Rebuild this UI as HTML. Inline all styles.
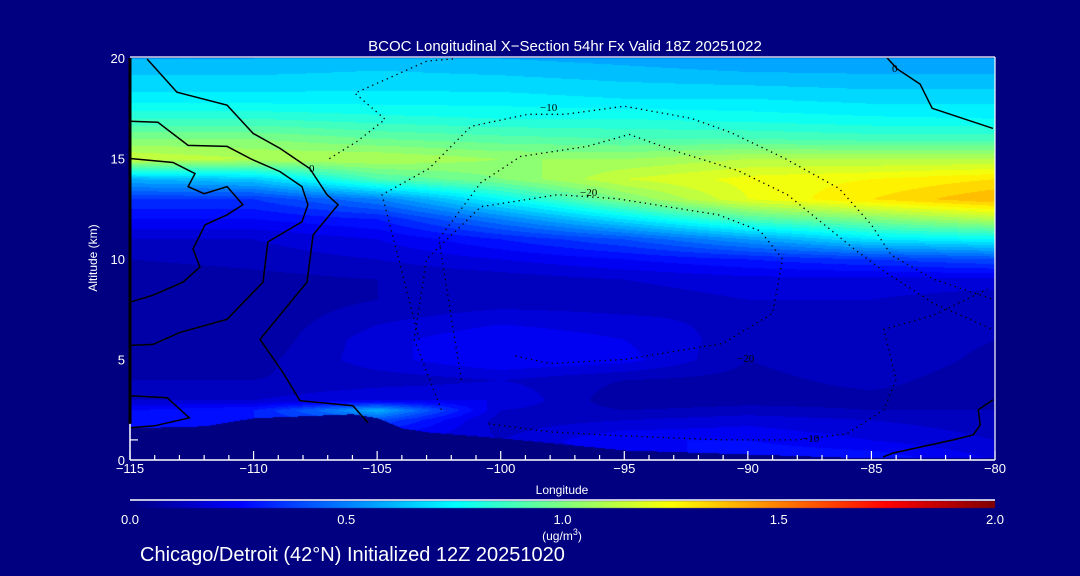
<!DOCTYPE html>
<html><head><meta charset="utf-8"><style>
html,body{margin:0;padding:0;background:#000080;}
#wrap{position:relative;width:1080px;height:576px;background:#000080;overflow:hidden;font-family:"Liberation Sans",sans-serif;color:#fff;}
canvas{position:absolute;left:0;top:0;}
svg{position:absolute;left:0;top:0;}
.t{fill:#fff;font-family:"Liberation Sans",sans-serif;}
</style></head><body>
<div id="wrap">
<canvas id="cv" width="1080" height="576"></canvas>
<svg id="sv" width="1080" height="576"></svg>
</div>
<script>
// ---- data ----
const lons = [-115,-110,-105,-100,-95,-90,-85,-80];
const alts = [0,1,2,2.5,3,4,5,6,8,9,10,11,12,13,14,15,16,17,18,20];
const field = [
[0.1,0.1,0.1,0.15,0.2,0.3,0.3,0.2],
[0.2,0.2,0.2,0.15,0.25,0.25,0.2,0.15],
[0.3,0.3,0.4,0.12,0.15,0.18,0.15,0.12],
[0.25,0.3,0.6,0.15,0.1,0.12,0.1,0.1],
[0.15,0.15,0.2,0.2,0.06,0.08,0.08,0.08],
[0.1,0.1,0.12,0.15,0.1,0.08,0.12,0.06],
[0.08,0.08,0.18,0.25,0.22,0.1,0.15,0.08],
[0.05,0.06,0.18,0.25,0.2,0.12,0.15,0.1],
[0.05,0.06,0.1,0.12,0.12,0.15,0.15,0.12],
[0.06,0.08,0.1,0.12,0.15,0.18,0.18,0.18],
[0.1,0.12,0.15,0.2,0.25,0.3,0.35,0.4],
[0.15,0.15,0.2,0.3,0.4,0.55,0.7,0.75],
[0.25,0.25,0.3,0.5,0.7,0.9,1.0,1.1],
[0.35,0.35,0.5,0.75,1.0,1.2,1.3,1.4],
[0.6,0.65,0.9,1.0,1.15,1.22,1.25,1.3],
[1.15,1.1,1.1,1.05,1.05,1.1,1.1,1.1],
[1.0,1.0,0.95,0.92,0.9,0.9,0.88,0.88],
[0.85,0.85,0.82,0.8,0.8,0.78,0.76,0.75],
[0.72,0.72,0.72,0.72,0.7,0.7,0.68,0.68],
[0.6,0.6,0.62,0.6,0.58,0.55,0.55,0.55]
];
const terrainLon = [-115,-112,-110,-108,-106,-105,-104,-103,-100,-95,-90,-85,-80];
const terrainAlt = [1.6,1.7,2.1,2.2,2.3,2.1,1.6,1.4,1.1,0.5,0.3,0.1,0.1];
const xTicks = [-115,-110,-105,-100,-95,-90,-85,-80];
const yTicks = [0,5,10,15,20];
const cbTicks = [0.0,0.5,1.0,1.5,2.0];
const solidA = [[-114.31,19.95],[-113.1,18.3],[-111.07,17.65],[-110.02,16.25],[-108.93,15.5],[-107.72,14.5],[-107.03,13.2],[-106.58,12.7],[-107.59,11.2],[-107.84,8.85],[-109.74,6.0],[-108.81,4.35],[-108.12,2.95],[-105.98,2.7],[-105.37,1.85]];
const solidB = [[-115,16.85],[-113.87,16.8],[-112.65,15.65],[-111.07,15.6],[-110.06,14.95],[-108.93,14.35],[-108.04,13.6],[-107.8,12.7],[-108.04,11.85],[-109.42,10.85],[-109.62,8.85],[-111.07,7.0],[-112.98,6.35],[-114.07,5.75],[-115,5.7]];
const solidC = [[-115,15],[-113.26,14.8],[-112.37,14.25],[-112.65,13.6],[-112.0,13.25],[-111.07,13.6],[-110.43,12.7],[-111.07,12.2],[-111.96,11.7],[-112.45,10.5],[-112.17,9.6],[-112.85,8.85],[-114.07,8.2],[-115,7.85]];
const solidD = [[-84.36,20],[-83.95,19.45],[-83.03,18.7],[-82.54,17.5],[-80.08,16.5]];
const solidE = [[-80.08,3.0],[-80.68,2.5],[-80.6,1.75],[-80.88,1.25],[-81.69,1.0],[-84.12,0.35],[-84.53,0.15]];
const solidF = [[-115,3.2],[-113.5,3.1],[-112.6,2.1],[-114,1.7],[-115,1.6]];
const dotA = [[-101.93,19.95],[-102.98,19.85],[-105.9,18.25],[-104.68,16.95],[-105.81,15.85],[-106.99,14.95]];
const dotB = [[-103.3,6.0],[-104.8,13.2],[-102.9,14.5],[-101.2,16.6],[-98.9,17.2],[-97.4,17.2],[-95,17.6],[-92.3,17.0],[-90.7,16.3],[-88.5,15.0],[-86.3,13.5],[-85,11.7],[-84.2,10.2],[-82.5,9.0],[-80.1,8.0]];
const dotC = [[-101.6,4.0],[-102.5,11],[-100.8,13.8],[-99.2,15.1],[-96.5,15.6],[-94.8,16.2],[-93,15.4],[-90.4,14.4],[-88.4,13.2],[-86.8,11.6],[-85.6,10.4],[-84.5,9.4],[-82.5,7.8],[-80.1,6.5]];
const dotD = [[-102.4,2.5],[-103.5,6],[-103,10],[-100.8,12.6],[-97.7,13.2],[-95.3,13.0],[-91.2,12.2],[-89.5,11.4],[-88.6,10],[-89,7.3],[-91,5.8],[-95,5.0],[-98,4.8],[-99.5,5.2]];
const dotE = [[-100.5,1.8],[-98,1.4],[-95,1.2],[-91,1.0],[-88,1.0],[-86,1.3],[-84.5,2.5],[-84,4.0],[-84.5,6.5],[-82.5,7.2],[-80.3,8.5]];

// ---- axes ----
const X0=130,X1=995,Y0=460,Y1=58;
const xs = lon => X0+(lon+115)/35*(X1-X0);
const ys = alt => Y0-alt/20*(Y0-Y1);
const cbx = v => 130+v/2*(995-130);
function jet(v){let t=Math.max(0,Math.min(1,v/2));const c=a=>Math.round(255*Math.max(0,Math.min(1,a)));
 return [c(1.5-Math.abs(4*t-3)),c(1.5-Math.abs(4*t-2)),c(1.5-Math.abs(4*t-1))];}
function idx(arr,v){let i=0;while(i<arr.length-2&&v>arr[i+1])i++;return i;}
function interp1(xa,ya,v){const i=idx(xa,v);const f=Math.max(0,Math.min(1,(v-xa[i])/(xa[i+1]-xa[i])));return ya[i]*(1-f)+ya[i+1]*f;}
function val(lon,alt){const i=idx(lons,lon),j=idx(alts,alt);
 const fx=Math.max(0,Math.min(1,(lon-lons[i])/(lons[i+1]-lons[i])));
 const fy=Math.max(0,Math.min(1,(alt-alts[j])/(alts[j+1]-alts[j])));
 const a=field[j][i]*(1-fx)+field[j][i+1]*fx, b=field[j+1][i]*(1-fx)+field[j+1][i+1]*fx;
 return a*(1-fy)+b*fy;}
const cv=document.getElementById('cv');const ctx=cv.getContext('2d');
const img=ctx.createImageData(1080,576);
for(let y=Math.round(Y1);y<Y0;y++){const alt=(Y0-y)/(Y0-Y1)*20;
 for(let x=X0;x<X1;x++){const lon=-115+(x-X0)/(X1-X0)*35;let col;
  if(alt<interp1(terrainLon,terrainAlt,lon)) col=[0,0,128];
  else{let v=val(lon,alt);v=Math.floor(v/0.05)*0.05+0.025;col=jet(v);}
  const k=(y*1080+x)*4;img.data[k]=col[0];img.data[k+1]=col[1];img.data[k+2]=col[2];img.data[k+3]=255;}}
for(let y=501;y<508;y++)for(let x=130;x<995;x++){const col=jet((x-130)/(995-130)*2);const k=(y*1080+x)*4;
 img.data[k]=col[0];img.data[k+1]=col[1];img.data[k+2]=col[2];img.data[k+3]=255;}
for(let y=0;y<576;y++)for(let x=0;x<1080;x++){const k=(y*1080+x)*4;if(img.data[k+3]===0){img.data[k+2]=128;img.data[k+3]=255;}}
ctx.putImageData(img,0,0);

// ---- svg overlay ----
const NS='http://www.w3.org/2000/svg';const sv=document.getElementById('sv');
function mk(tag,attrs,parent){const e=document.createElementNS(NS,tag);for(const k in attrs)e.setAttribute(k,attrs[k]);(parent||sv).appendChild(e);return e;}
function line(pts,dash,name){const d=pts.map((p,i)=>(i?'L':'M')+xs(p[0]).toFixed(1)+' '+ys(p[1]).toFixed(1)).join(' ');
 const e=mk('path',{d:d,fill:'none',stroke:'#000','stroke-width':dash?1.3:1.5,'stroke-dasharray':dash?'1.3 4':'none'});
 
 }
line(solidA,false,'contour-0-a');line(solidB,false,'contour-solid-b');line(solidC,false,'contour-solid-c');
line(solidD,false,'contour-solid-d');line(solidE,false,'contour-solid-e');line(solidF,false,'contour-solid-f');
line(dotA,true,'contour-dotted-a');line(dotB,true,'contour-dotted-b');line(dotC,true,'contour-dotted-c');line(dotD,true,'contour-dotted-d');line(dotE,true,'contour-dotted-e');
// frame
mk('line',{x1:X0,y1:Y1-1,x2:X1,y2:Y1-1,stroke:'#fff','stroke-width':1.2});
mk('line',{x1:X1,y1:Y1-1,x2:X1,y2:Y0,stroke:'#fff','stroke-width':1.2});
mk('line',{x1:X0,y1:Y0,x2:X1,y2:Y0,stroke:'#fff','stroke-width':1.5});
mk('line',{x1:X0,y1:Y1,x2:X0,y2:Y0,stroke:'#fff','stroke-width':1.5});
mk('line',{x1:X0,y1:Y1,x2:X0,y2:ys(1.8),stroke:'#000','stroke-width':3});
for(let l=-115;l<=-80;l++){const maj=(l%5===0);
 mk('line',{x1:xs(l),y1:Y0,x2:xs(l),y2:Y0-(maj?9:5),stroke:'#fff','stroke-width':1.2});}
mk('line',{x1:X0,y1:ys(1),x2:X0+8,y2:ys(1),stroke:'#fff','stroke-width':1.2});
xTicks.forEach(l=>{const t=mk('text',{x:xs(l),y:473,'text-anchor':'middle','font-size':13,class:'t'});t.textContent=(l<0?'\u2212'+(-l):l);
 
 });
yTicks.forEach(a=>{const t=mk('text',{x:125,y:ys(a)+5,'text-anchor':'end','font-size':13,class:'t'});t.textContent=a;
 
 });
// colorbar
mk('line',{x1:130,y1:500,x2:995,y2:500,stroke:'#fff','stroke-width':1.5});
cbTicks.forEach(v=>{const t=mk('text',{x:cbx(v),y:524,'text-anchor':'middle','font-size':13,class:'t'});t.textContent=v.toFixed(1);
 
 });
</script>
<svg width="1080" height="576" style="position:absolute;left:0;top:0">
<text x="565" y="51" text-anchor="middle" font-size="15" class="t">BCOC Longitudinal X&#8722;Section 54hr  Fx Valid 18Z 20251022</text>
<text x="562" y="494" text-anchor="middle" font-size="12" class="t">Longitude</text>
<text transform="translate(97,258) rotate(-90)" text-anchor="middle" font-size="12" class="t">Altitude (km)</text>
<text x="562" y="540" text-anchor="middle" font-size="12" class="t">(ug/m<tspan dy="-5" font-size="9">3</tspan><tspan dy="5">)</tspan></text>
<text x="140" y="561" font-size="20" class="t">Chicago/Detroit (42°N) Initialized 12Z 20251020</text>
<text x="580" y="196" font-size="11" fill="#000">&#8722;20</text>
<text x="540" y="111" font-size="11" fill="#000">&#8722;10</text>
<text x="737" y="362" font-size="11" fill="#000">&#8722;20</text>
<text x="802" y="442" font-size="11" fill="#000">&#8722;10</text>
<text x="309" y="172" font-size="11" fill="#000">0</text>
<text x="892" y="72" font-size="11" fill="#000">0</text>
</svg>
</div>
</body></html>
